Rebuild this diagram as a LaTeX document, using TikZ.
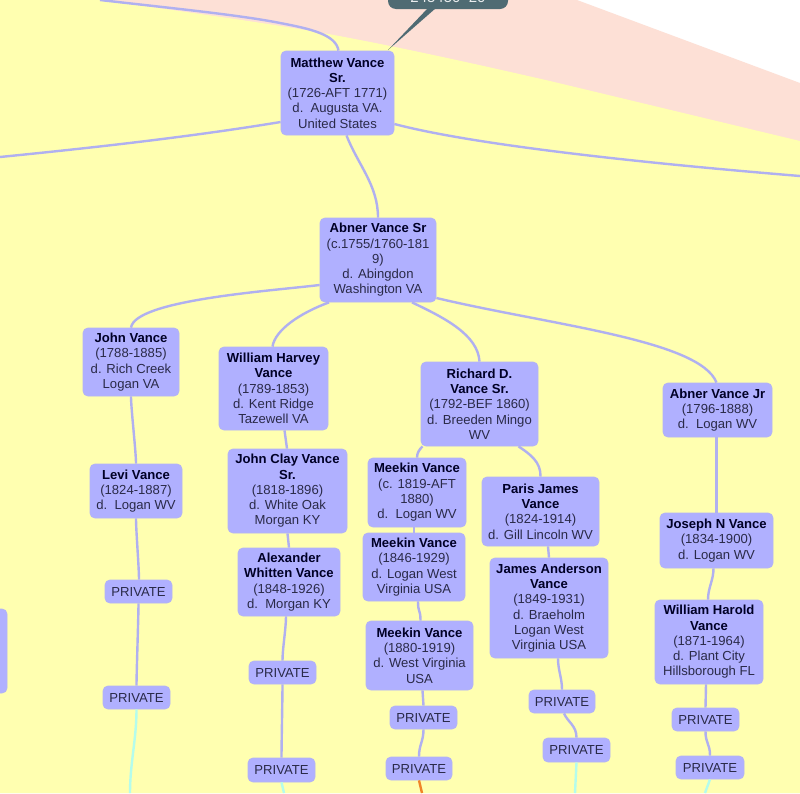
\documentclass[tikz,border=0pt]{standalone}
\usepackage{fontspec}
\setmainfont{Liberation Sans}
\usetikzlibrary{calc}
\definecolor{bgyellow}{HTML}{FFFFB0}
\definecolor{bgpink}{HTML}{FDE0D6}
\definecolor{boxfill}{HTML}{B0B0FF}
\definecolor{boxline}{HTML}{B4B4F4}
\definecolor{edgeblue}{HTML}{B0B0F0}
\definecolor{edgecyan}{HTML}{B4FCEC}
\definecolor{edgeorange}{HTML}{F08428}
\definecolor{tagdark}{HTML}{4F6B73}
\definecolor{txt}{HTML}{2A2A48}
\tikzset{
  person/.style={draw=boxline,line width=0.8pt,fill=boxfill,rounded corners=5pt,inner sep=0pt,align=center,text=txt,
    font=\fontsize{13.1}{15.3}\selectfont},
  link/.style={draw=edgeblue,line width=2.4pt},
  linkcyan/.style={draw=edgecyan,line width=2.4pt},
  linkorange/.style={draw=edgeorange,line width=2.4pt},
}
\newcommand{\bx}[6]{%
  \pgfmathsetmacro{\bxw}{#4-#2}\pgfmathsetmacro{\bxh}{#5-#3}%
  \pgfmathsetmacro{\bxx}{(#2+#4)/2}\pgfmathsetmacro{\bxy}{(#3+#5)/2}%
  \node[person,minimum width=\bxw pt,minimum height=\bxh pt] (#1) at (\bxx,\bxy) {#6};}
\newcommand{\nm}[1]{{\bfseries\color{black!85!blue}#1}}
\newcommand{\cn}[4]{%
  \draw[link] ([xshift=#2pt]#1.south) .. controls +(0,12) and +(0,-12) .. ([xshift=#4pt]#3.north);}
\begin{document}
\begin{tikzpicture}[x=1pt,y=-1pt]
\useasboundingbox (0,0) rectangle (800,793);
\clip (0,0) rectangle (800,793);
\fill[white] (0,0) rectangle (800,793);
\fill[bgpink] (90,0) -- (577,0) -- (800,83) -- (800,793) -- (0,793) -- (0,0) -- cycle;
\fill[bgyellow] (0,0) -- (100,0) .. controls (180,11) and (260,22) .. (323,33) .. controls (400,47) and (480,65) .. (550,81) -- (800,141) -- (800,793) -- (0,793) -- cycle;
\fill[tagdark,rounded corners=8pt] (388,-30) rectangle (508,9);
\fill[tagdark] (428,8) -- (436,8) -- (388,50) -- cycle;
\node[text=white!88!tagdark,font=\fontsize{15}{18}\selectfont,inner sep=0pt] (tag) at (448,-3) {245450 \ 20};
% nodes
\bx{matthew}{281}{51}{394}{135}{\nm{Matthew Vance}\\\nm{Sr.}\\(1726-AFT 1771)\\d.\ \ Augusta VA.\\United States}
\bx{abner}{320}{218}{436}{302}{\nm{Abner Vance Sr}\\(c.1755/1760-181\\9)\\d. Abingdon\\Washington VA}
\bx{john}{83}{328}{179}{396}{\nm{John Vance}\\(1788-1885)\\d. Rich Creek\\Logan VA}
\bx{william}{219}{347}{328}{430}{\nm{William Harvey}\\\nm{Vance}\\(1789-1853)\\d. Kent Ridge\\Tazewell VA}
\bx{richard}{421}{362}{538}{446}{\nm{Richard D.}\\\nm{Vance Sr.}\\(1792-BEF 1860)\\d. Breeden Mingo\\WV}
\bx{abnerjr}{663}{383}{772}{437}{\nm{Abner Vance Jr}\\(1796-1888)\\d.\ \ Logan WV}
\bx{levi}{90}{464}{182}{518}{\nm{Levi Vance}\\(1824-1887)\\d.\ \ Logan WV}
\bx{clay}{228}{449}{347}{533}{\nm{John Clay Vance}\\\nm{Sr.}\\(1818-1896)\\d. White Oak\\Morgan KY}
\bx{alex}{238}{548}{340}{616}{\nm{Alexander}\\\nm{Whitten Vance}\\(1848-1926)\\d.\ \ Morgan KY}
\bx{meekina}{368}{458}{466}{527}{\nm{Meekin Vance}\\(c. 1819-AFT\\1880)\\d.\ \ Logan WV}
\bx{meekinb}{363}{533}{465}{601}{\nm{Meekin Vance}\\(1846-1929)\\d. Logan West\\Virginia USA}
\bx{meekinc}{366}{621}{473}{690}{\nm{Meekin Vance}\\(1880-1919)\\d. West Virginia\\USA}
\bx{paris}{482}{477}{599}{546}{\nm{Paris James}\\\nm{Vance}\\(1824-1914)\\d. Gill Lincoln WV}
\bx{james}{490}{558}{608}{658}{\nm{James Anderson}\\\nm{Vance}\\(1849-1931)\\d. Braeholm\\Logan West\\Virginia USA}
\bx{joseph}{660}{513}{773}{568}{\nm{Joseph N Vance}\\(1834-1900)\\d. Logan WV}
\bx{harold}{655}{600}{763}{684}{\nm{William Harold}\\\nm{Vance}\\(1871-1964)\\d. Plant City\\Hillsborough FL}
\bx{pa}{105}{580}{172}{603}{PRIVATE}
\bx{pb}{103}{686}{170}{709}{PRIVATE}
\bx{pc}{249}{661}{316}{684}{PRIVATE}
\bx{pd}{248}{758}{315}{782}{PRIVATE}
\bx{pe}{390}{706}{457}{729}{PRIVATE}
\bx{pf}{386}{757}{452}{780}{PRIVATE}
\bx{pg}{529}{690}{595}{713}{PRIVATE}
\bx{ph}{543}{738}{610}{762}{PRIVATE}
\bx{pi}{672}{708}{739}{731}{PRIVATE}
\bx{pj}{676}{756}{744}{779}{PRIVATE}
\bx{leftcut}{-80}{609}{7}{693}{}
% free ends
\coordinate (topin) at (100,0);
\coordinate (topmid) at (280,23);
\coordinate (leftout) at (0,157);
\coordinate (rightout) at (800,176);
\coordinate (cyana) at (130,793);
\coordinate (cyanb) at (284,793);
\coordinate (orangea) at (422,793);
\coordinate (cyanc) at (575,793);
\coordinate (cyand) at (705,793);
% connectors
\draw[link] (topin) .. controls (170,8) and (240,15) .. (topmid) .. controls (312,29) and (336,35) .. ([xshift=1pt]matthew.north);
\draw[link] (matthew.west |- 0,122) .. controls (190,137) and (90,148) .. (leftout);
\draw[link] (matthew.east |- 0,124) .. controls (470,144) and (630,162) .. (rightout);
\draw[link] ([xshift=9pt]matthew.south) .. controls (358,165) and (378,185) .. (abner.north);
\draw[link] (abner.west |- 0,285) .. controls (270,291) and (135,300) .. (john.north);
\draw[link] ([xshift=-49pt]abner.south) .. controls (300,313) and (275,330) .. ([xshift=-1pt]william.north);
\draw[link] ([xshift=34pt]abner.south) .. controls (445,318) and (478,335) .. (richard.north);
\draw[link] (abner.east |- 0,298) .. controls (550,325) and (700,340) .. ([xshift=-1pt]abnerjr.north);
\cn{john}{0}{levi}{0}
\cn{levi}{0}{pa}{0.5}
\cn{pa}{0}{pb}{0}
\draw[linkcyan] (pb.south) .. controls +(0,30) and +(0,-30) .. (cyana);
\draw[link] ([xshift=11pt]william.south) -- ([xshift=-0.5pt]clay.north);
\draw[link] (clay.south) -- (alex.north);
\cn{alex}{-3}{pc}{0}
\cn{pc}{0}{pd}{0}
\draw[linkcyan] (pd.south) -- (cyanb);
\draw[link] ([xshift=-57pt]richard.south) .. controls +(-3,3) and +(0,-5) .. (meekina.north);
\draw[link] ([xshift=39pt]richard.south) .. controls (530,454) and (541,462) .. (paris.north);
\draw[link] ([xshift=-3pt]meekina.south) -- (meekinb.north -| 414,0);
\cn{meekinb}{4}{meekinc}{1}
\draw[link] ([xshift=3pt]meekinc.south) -- (pe.north);
\cn{pe}{0}{pf}{0}
\draw[linkorange] (pf.south) -- (orangea);
\draw[link] ([xshift=7.5pt]paris.south) -- (james.north);
\cn{james}{9}{pg}{0}
\draw[link] ([xshift=2pt]pg.south) .. controls +(4,9) and +(0,-12) .. (ph.north);
\draw[linkcyan] (ph.south) -- (cyanc);
\draw[link] ([xshift=-1pt]abnerjr.south) -- (joseph.north);
\cn{joseph}{-3}{harold}{-1}
\draw[link] ([xshift=-3pt]harold.south) -- (pi.north);
\cn{pi}{0}{pj}{0}
\draw[linkcyan] (pj.south) -- (cyand);
\end{tikzpicture}
\end{document}
